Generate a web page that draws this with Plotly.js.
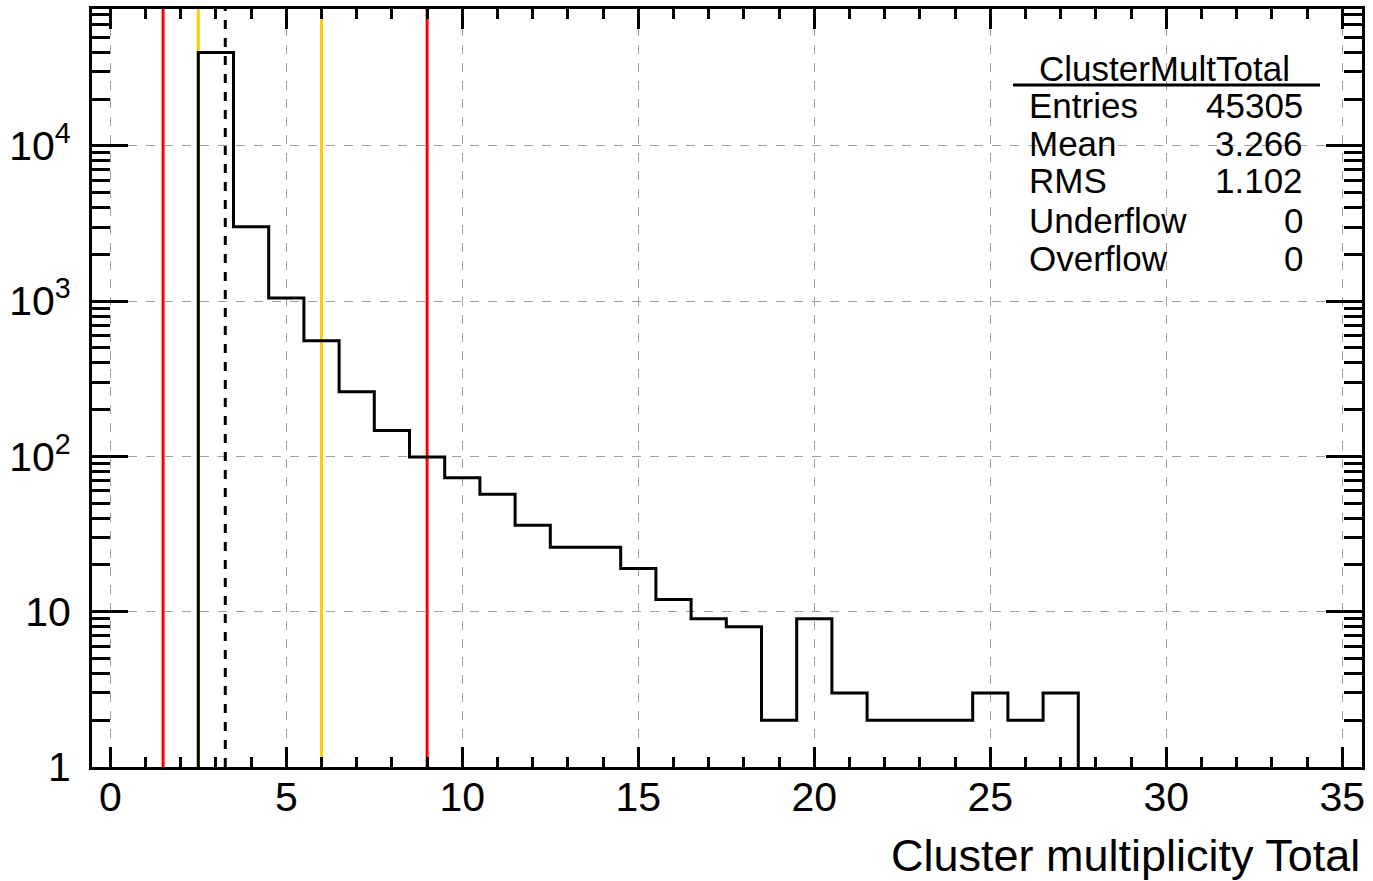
<!DOCTYPE html>
<html>
<head>
<meta charset="utf-8">
<script src="https://cdn.plot.ly/plotly-3.0.1.min.js"></script>
<style>
  html, body { margin: 0; padding: 0; background: #ffffff; }
  #chart { width: 1373px; height: 881px; }
</style>
</head>
<body>
<div id="chart"></div>
<script>
// ---- data ----
const binCenters = [3, 4, 5, 6, 7, 8, 9, 10, 11, 12, 13, 14, 15, 16, 17, 18, 19, 20, 21, 22, 23, 24, 25, 26, 27];
const binCounts  = [39886, 3015, 1047, 556, 261, 147, 99, 73, 57, 36, 26, 26, 19, 12, 9, 8, 2, 9, 3, 2, 2, 2, 3, 2, 3];
const binWidth = 1;

const redLines = [1.5, 9];
const yellowLines = [2.5, 6];
const meanValue = 3.266;

const histName = "ClusterMultTotal";
const statLabels = ["Entries", "Mean", "RMS", "Underflow", "Overflow"];
const statValues = ["45305", "3.266", "1.102", "0", "0"];

const xTitle = "Cluster multiplicity Total";
const yTickVals = [1, 10, 100, 1000, 10000];
const yTickText = ["1", "10", "10<sup>2</sup>", "10<sup>3</sup>", "10<sup>4</sup>"];

// ---- build step outline from bins ----
const yMin = 1; // axis floor (log scale)
const stepX = [], stepY = [];
stepX.push(binCenters[0] - binWidth / 2); stepY.push(yMin);
for (let i = 0; i < binCenters.length; i++) {
  stepX.push(binCenters[i] - binWidth / 2);
  stepY.push(binCounts[i]);
}
const last = binCenters.length - 1;
stepX.push(binCenters[last] + binWidth / 2); stepY.push(binCounts[last]);
stepX.push(binCenters[last] + binWidth / 2); stepY.push(yMin);

const trace = {
  type: "scatter",
  mode: "lines",
  x: stepX,
  y: stepY,
  line: { shape: "hv", color: "#000000", width: 3 },
  hoverinfo: "skip",
  showlegend: false
};

// ---- layout geometry (pixels) ----
const W = 1373, H = 881;
const M = { l: 92, r: 11, t: 9, b: 114 };
const pw = W - M.l - M.r, ph = H - M.t - M.b;
const px2x = p => (p - M.l) / pw;
const px2y = p => (H - M.b - p) / ph;

const FONT = "Liberation Sans, Arial, Helvetica, sans-serif";

const shapes = [];
redLines.forEach(v => shapes.push({
  type: "line", xref: "x", yref: "paper", x0: v, x1: v, y0: 0, y1: 1,
  line: { color: "#ff0000", width: 3 }, layer: "between"
}));
yellowLines.forEach(v => shapes.push({
  type: "line", xref: "x", yref: "paper", x0: v, x1: v, y0: 0, y1: 1,
  line: { color: "#ffcc00", width: 3 }, layer: "between"
}));
shapes.push({
  type: "line", xref: "x", yref: "paper", x0: meanValue, x1: meanValue, y0: 0, y1: 1,
  line: { color: "#000000", width: 3, dash: "dash" }, layer: "above"
});
// stats title underline
shapes.push({
  type: "line", xref: "paper", yref: "paper",
  x0: px2x(1013), x1: px2x(1320), y0: px2y(85), y1: px2y(85),
  line: { color: "#000000", width: 3 }, layer: "above"
});

const STAT_SIZE = 35;
const annotations = [];
annotations.push({
  xref: "paper", yref: "paper", x: px2x(1164), y: px2y(68),
  text: histName, showarrow: false, xanchor: "center", yanchor: "middle",
  font: { family: FONT, size: STAT_SIZE, color: "#000" }
});
const rowY = [105, 143, 181, 220, 258];
statLabels.forEach((lab, i) => {
  annotations.push({
    xref: "paper", yref: "paper", x: px2x(1027), y: px2y(rowY[i]),
    text: lab, showarrow: false, xanchor: "left", yanchor: "middle",
    font: { family: FONT, size: STAT_SIZE, color: "#000" }
  });
  annotations.push({
    xref: "paper", yref: "paper", x: px2x(1305), y: px2y(rowY[i]),
    text: statValues[i], showarrow: false, xanchor: "right", yanchor: "middle",
    font: { family: FONT, size: STAT_SIZE, color: "#000" }
  });
});
// x axis title, right aligned
annotations.push({
  xref: "paper", yref: "paper", x: 1, y: px2y(855),
  text: xTitle, showarrow: false, xanchor: "right", yanchor: "middle",
  font: { family: FONT, size: 45, color: "#000" }
});

const layout = {
  width: W, height: H,
  margin: M,
  paper_bgcolor: "#ffffff",
  plot_bgcolor: "#ffffff",
  font: { family: FONT, color: "#000" },
  showlegend: false,
  xaxis: {
    range: [-0.52, 35.56],
    tickmode: "linear", tick0: 0, dtick: 5,
    ticks: "inside", ticklen: 20, tickwidth: 3, tickcolor: "#000",
    minor: { dtick: 1, ticks: "inside", ticklen: 10, tickwidth: 3, tickcolor: "#000", showgrid: false },
    showline: true, linewidth: 3, linecolor: "#000", mirror: "allticks",
    showgrid: true, gridcolor: "#a0a0a0", gridwidth: 1, griddash: "dash",
    zeroline: false,
    ticklabelstandoff: -8,
    tickfont: { family: FONT, size: 41, color: "#000" }
  },
  yaxis: {
    type: "log",
    range: [0, 4.881],
    tickmode: "array", tickvals: yTickVals, ticktext: yTickText,
    ticks: "inside", ticklen: 36, tickwidth: 3, tickcolor: "#000",
    minor: { dtick: "D1", ticks: "inside", ticklen: 18, tickwidth: 3, tickcolor: "#000", showgrid: false },
    showline: true, linewidth: 3, linecolor: "#000", mirror: "allticks",
    showgrid: true, gridcolor: "#a0a0a0", gridwidth: 1, griddash: "dash",
    zeroline: false,
    ticklabelstandoff: 10,
    tickfont: { family: FONT, size: 41, color: "#000" }
  },
  shapes: shapes,
  annotations: annotations
};

Plotly.newPlot("chart", [trace], layout, { displayModeBar: false, staticPlot: true });
</script>
</body>
</html>
